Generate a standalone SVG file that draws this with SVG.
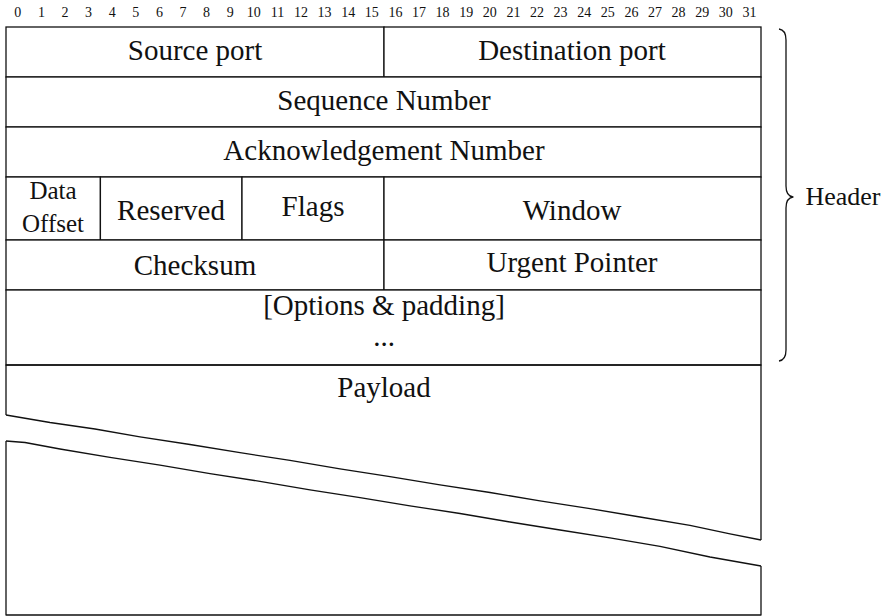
<svg xmlns="http://www.w3.org/2000/svg" width="884" height="616" viewBox="0 0 884 616">
  <style>
    .cell { fill: #fff; stroke: #111; stroke-width: 1.3; }
    .edge { fill: none; stroke: #111; stroke-width: 1.3; stroke-linejoin: round; }
    .lbl { font-family: "Liberation Serif", "DejaVu Serif", serif; font-size: 29px; fill: #111; text-anchor: middle; }
    .small { font-family: "Liberation Serif", "DejaVu Serif", serif; font-size: 25px; fill: #111; text-anchor: middle; }
    .bit { font-family: "Liberation Serif", "DejaVu Serif", serif; font-size: 14px; fill: #111; text-anchor: middle; }
  </style>
  <rect width="884" height="616" fill="#fff"/>

  <!-- bit ruler -->
  <g id="bits" class="bit">
    <text x="17.8" y="17">0</text><text x="41.4" y="17">1</text><text x="65" y="17">2</text><text x="88.6" y="17">3</text>
    <text x="112.2" y="17">4</text><text x="135.8" y="17">5</text><text x="159.4" y="17">6</text><text x="183" y="17">7</text>
    <text x="206.6" y="17">8</text><text x="230.2" y="17">9</text><text x="253.8" y="17">10</text><text x="277.4" y="17">11</text>
    <text x="301" y="17">12</text><text x="324.6" y="17">13</text><text x="348.2" y="17">14</text><text x="371.8" y="17">15</text>
    <text x="395.4" y="17">16</text><text x="419" y="17">17</text><text x="442.6" y="17">18</text><text x="466.2" y="17">19</text>
    <text x="489.8" y="17">20</text><text x="513.4" y="17">21</text><text x="537" y="17">22</text><text x="560.6" y="17">23</text>
    <text x="584.2" y="17">24</text><text x="607.8" y="17">25</text><text x="631.4" y="17">26</text><text x="655" y="17">27</text>
    <text x="678.6" y="17">28</text><text x="702.2" y="17">29</text><text x="725.8" y="17">30</text><text x="749.4" y="17">31</text>
  </g>

  <!-- header rows -->
  <g id="source-port"><rect class="cell" x="6" y="27" width="378" height="50"/><text class="lbl" x="195" y="60">Source port</text></g>
  <g id="destination-port"><rect class="cell" x="384" y="27" width="377" height="50"/><text class="lbl" x="572" y="60">Destination port</text></g>
  <g id="sequence-number"><rect class="cell" x="6" y="77" width="755" height="50"/><text class="lbl" x="384" y="110">Sequence Number</text></g>
  <g id="ack-number"><rect class="cell" x="6" y="127" width="755" height="50"/><text class="lbl" x="384" y="160">Acknowledgement Number</text></g>
  <g id="data-offset"><rect class="cell" x="6" y="177" width="94.4" height="63"/><text class="small" x="53" y="199">Data</text><text class="small" x="53" y="232">Offset</text></g>
  <g id="reserved"><rect class="cell" x="100.4" y="177" width="141.6" height="63"/><text class="lbl" x="171" y="220">Reserved</text></g>
  <g id="flags"><rect class="cell" x="242" y="177" width="142" height="63"/><text class="lbl" x="313" y="216">Flags</text></g>
  <g id="window"><rect class="cell" x="384" y="177" width="377" height="63"/><text class="lbl" x="572" y="220">Window</text></g>
  <g id="checksum"><rect class="cell" x="6" y="240" width="378" height="50"/><text class="lbl" x="195" y="275">Checksum</text></g>
  <g id="urgent-pointer"><rect class="cell" x="384" y="240" width="377" height="50"/><text class="lbl" x="572" y="272">Urgent Pointer</text></g>
  <g id="options"><rect class="cell" x="6" y="290" width="755" height="75"/><text class="lbl" x="384" y="315">[Options &amp; padding]</text><text class="lbl" x="384" y="346">...</text></g>

  <!-- payload, drawn with a torn break -->
  <g id="payload">
    <path class="edge" d="M6,415 L6,365 L761,365 L761,540"/>
    <path class="edge" d="M6,415 L50,422.5 L95,429 L140,436.8 L190,444.5 L240,452.6 L290,460.4 L340,468.8 L390,476.6 L440,484.8 L490,492.5 L540,500.8 L590,508.6 L640,517 L690,525.4 L730,533.8 L761,540"/>
    <path class="edge" d="M6,441 L25,442.5 L60,449 L110,457.4 L160,465.2 L210,473.6 L260,481.4 L310,489.8 L360,497.6 L410,505.8 L460,513.5 L510,522 L560,530 L610,537.8 L660,546.4 L710,557 L761,566"/>
    <path class="edge" d="M6,441 L6,615 L761,615 L761,566"/>
    <text class="lbl" x="384" y="397">Payload</text>
  </g>

  <!-- header brace -->
  <g id="header-brace">
    <path class="edge" d="M779,29 Q786,30 786,40 L786,186 Q786,196 793,197 Q786,198 786,208 L786,350 Q786,360 779,361"/>
    <text class="lbl" x="843" y="205" style="font-size:26px">Header</text>
  </g>
</svg>
